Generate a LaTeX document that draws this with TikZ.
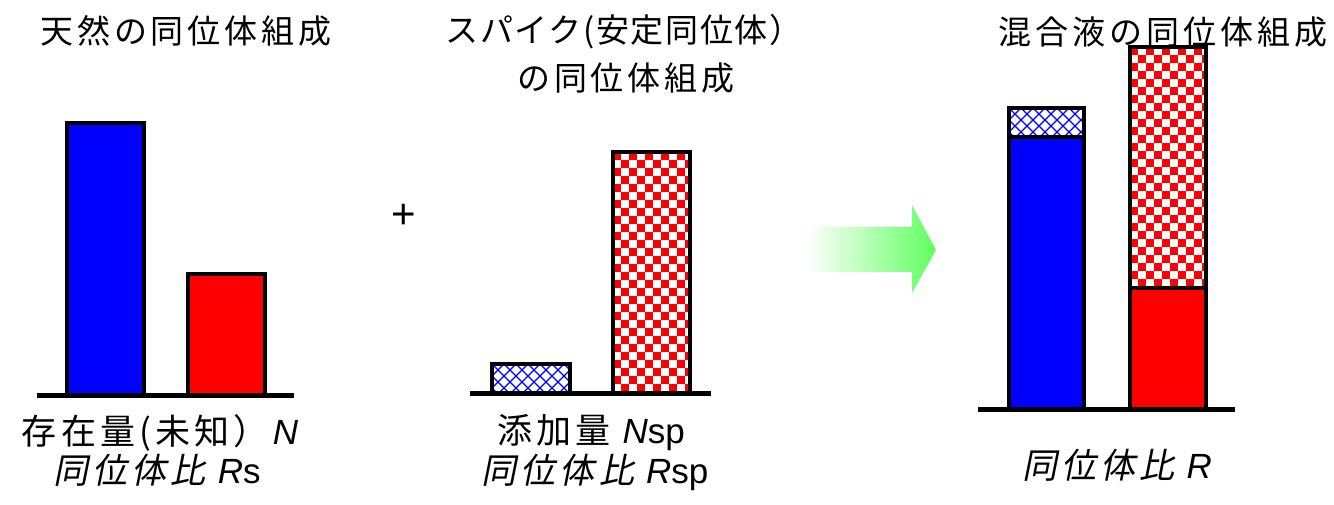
\documentclass[tikz,border=0pt]{standalone}
\usepackage{fontspec}
\setmainfont{Liberation Sans}
\newfontfamily\jp[LetterSpace=12]{Noto Sans CJK JP}
\newfontfamily\jpn[LetterSpace=5]{Noto Sans CJK JP}
\newfontfamily\jpsl[LetterSpace=12,FakeSlant=0.2]{Noto Sans CJK JP}
\newcommand\lat[1]{{\normalfont\fontsize{35}{40}\selectfont #1}}
\definecolor{arrowgreen}{RGB}{95,255,95}
\newcommand\chk[4]{%
  \fill[white] (#1,#2) rectangle (#3,#4);
  \begin{scope}
    \clip (#1,#2) rectangle (#3,#4);
    \pgfmathtruncatemacro\ny{ceil((#4-#2)/8)}
    \pgfmathtruncatemacro\nx{ceil((#3-#1)/16)}
    \foreach \j in {0,...,\ny} {
      \pgfmathtruncatemacro\off{mod(\j,2)}
      \foreach \i in {0,...,\nx} {
        \fill[red] ({#1+(2*\i+\off)*8},{#2+\j*8}) rectangle ++(8,8);
      }
    }
  \end{scope}}
\newcommand\hatch[4]{%
  \fill[white] (#1,#2) rectangle (#3,#4);
  \begin{scope}
    \clip (#1,#2) rectangle (#3,#4);
    \foreach \k in {-4,...,10} {
      \draw[blue,line width=1.1] ({#1+\k*12},#2) -- ++(45,45);
      \draw[blue,line width=1.1] ({#1+\k*12},#2) -- ++(-45,45);
    }
  \end{scope}}
\tikzset{
  txt/.style={font=\fontsize{33}{40}\selectfont, inner sep=0pt, anchor=center},
  lbl/.style={font=\fontsize{35}{42}\selectfont, inner sep=0pt, anchor=center},
  barline/.style={line width=4},
  axis/.style={line width=5},
}
\begin{document}
\begin{tikzpicture}[x=1pt,y=-1pt]
\useasboundingbox (0,0) rectangle (1334,505);

% titles
\node[txt] (t1) at (186,31) {\jp 天然の同位体組成};
\node[txt] (t2a) at (624,32) {\jpn スパイク(安定同位体）};
\node[txt] (t2b) at (626,78) {\jp の同位体組成};

% panel 1
\fill[blue] (67,123) rectangle (144,395);
\fill[red] (188,274) rectangle (265,395);
\draw[barline] (67,123) rectangle (144,395);
\draw[barline] (188,274) rectangle (265,395);
\draw[axis] (37,395) -- (294,395);

% plus
\node[inner sep=0pt, font=\fontsize{42}{44}\selectfont] (plus) at (404,216) {+};

% panel 2
\hatch{492}{364}{570}{393}
\chk{613}{152}{690}{393}
\draw[barline] (492,364) rectangle (570,393);
\draw[barline] (613,152) rectangle (690,393);
\draw[axis] (470,393) -- (711,393);

% arrow
\shade[left color=white, right color=arrowgreen]
  (807,227) -- (912,227) -- (912,205) -- (936,250) -- (912,293) -- (912,272) -- (807,272) -- cycle;

% panel 3
\hatch{1009}{108}{1084}{137}
\fill[blue] (1009,137) rectangle (1084,409);
\chk{1130}{47}{1206}{288}
\fill[red] (1130,288) rectangle (1206,409);
\draw[barline] (1009,108) rectangle (1084,137);
\draw[barline] (1009,137) rectangle (1084,409);
\draw[barline] (1130,47) rectangle (1206,288);
\draw[barline] (1130,288) rectangle (1206,409);
\draw[axis] (978,409) -- (1235,409);

\node[txt] (t3) at (1163,32) {\jp 混合液の同位体組成};

% labels
\node[lbl] (l1a) at (160,433) {\jp 存在量(未知）\lat{\hspace*{4pt}\itshape N}};
\node[lbl] (l1b) at (157,470) {\jpsl 同位体比\lat{\hspace*{12pt}\itshape R\upshape s}};
\node[lbl] (l2a) at (591,433) {\jp 添加量\lat{\hspace*{12pt}\itshape N\upshape sp}};
\node[lbl] (l2b) at (595,472) {\jpsl 同位体比\lat{\hspace*{12pt}\itshape R\upshape sp}};
\node[lbl] (l3) at (1117,465) {\jpsl 同位体比\lat{\hspace*{12pt}\itshape R}};
\end{tikzpicture}
\end{document}
